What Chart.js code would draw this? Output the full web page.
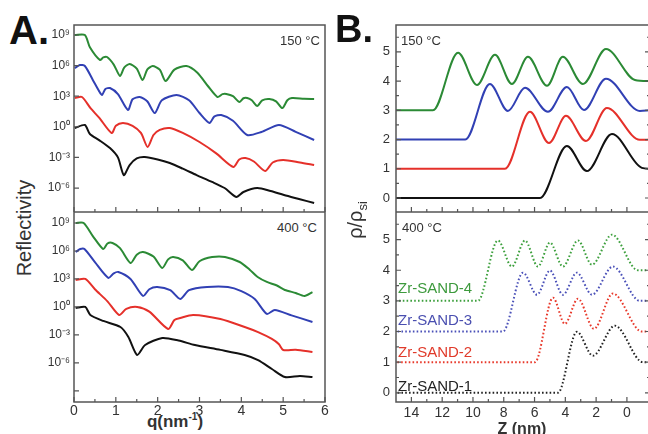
<!DOCTYPE html>
<html>
<head>
<meta charset="utf-8">
<script src="https://cdn.jsdelivr.net/npm/chart.js@4.4.1/dist/chart.umd.min.js"></script>
<style>
body { margin: 0; width: 648px; height: 434px; overflow: hidden; background: #fff; position: relative; font-family: "Liberation Sans", Arial, sans-serif; }
canvas { position: absolute; }
.t { position: absolute; white-space: nowrap; color: #333; transform: translateY(-50%); line-height: 1; }
</style>
</head>
<body>
<canvas id="tr" width="320" height="212" style="left:340px;top:0"></canvas>
<canvas id="br" width="320" height="222" style="left:340px;top:212px"></canvas>
<canvas id="tl" width="338" height="212" style="left:0;top:0;z-index:2"></canvas>
<canvas id="bl" width="338" height="222" style="left:0;top:212px;z-index:2"></canvas>

<div class="t" style="left:9px;top:30px;font:bold 40px 'Liberation Sans',Arial;color:#111">A.</div>
<div class="t" style="left:335px;top:29px;font:bold 38px 'Liberation Sans',Arial;color:#111">B.</div>
<div class="t" style="left:280px;top:40px;font-size:13px">150 °C</div>
<div class="t" style="left:277px;top:227px;font-size:13px">400 °C</div>
<div class="t" style="left:401px;top:40px;font-size:13px">150 °C</div>
<div class="t" style="left:402px;top:227px;font-size:13px">400 °C</div>
<div class="t" style="left:24px;top:228px;font-size:20px;transform:translate(-50%,-50%) rotate(-90deg)">Reflectivity</div>
<div class="t" style="left:357px;top:220px;font-size:20px;transform:translate(-50%,-50%) rotate(-90deg)">ρ/ρ<sub style="font-size:13px">si</sub></div>
<div class="t" style="left:175px;top:421px;font-weight:bold;font-size:17px;transform:translate(-50%,-50%)">q(nm<sup style="font-size:10px">-1</sup>)</div>
<div class="t" style="left:522px;top:429px;font-weight:bold;font-size:16px;transform:translate(-50%,-50%)">Z (nm)</div>
<div class="t" style="left:398px;top:287px;font-size:15px;color:#3d9a3d">Zr-SAND-4</div>
<div class="t" style="left:398px;top:319px;font-size:15px;color:#4a4fb0">Zr-SAND-3</div>
<div class="t" style="left:398px;top:351px;font-size:15px;color:#e03a2a">Zr-SAND-2</div>
<div class="t" style="left:398px;top:385px;font-size:15px;color:#222">Zr-SAND-1</div>

<script>
// reflectivity, 150 C  (q in nm^-1, log10 R)
const q150green = [0.02, 0.26, 0.38, 0.62, 0.70, 0.79, 0.95, 1.10, 1.20, 1.33, 1.50, 1.64, 1.75, 1.88, 2.05, 2.19, 2.40, 2.69, 2.95, 3.20, 3.43, 3.55, 3.64, 3.80, 3.95, 4.05, 4.14, 4.25, 4.38, 4.50, 4.67, 4.83, 4.98, 5.10, 5.21, 5.50, 5.74];
const r150green = [9.0, 9.0, 7.8, 6.55, 6.8, 6.84, 6.1, 4.98, 5.8, 6.16, 5.7, 4.59, 5.6, 5.96, 5.6, 4.49, 5.6, 5.96, 5.3, 4.0, 2.92, 3.2, 3.22, 3.0, 2.43, 2.8, 2.82, 2.6, 2.04, 2.6, 2.73, 2.5, 1.84, 2.6, 2.82, 2.75, 2.73];
const q150blue = [0.02, 0.14, 0.26, 0.45, 0.60, 0.67, 0.75, 0.86, 1.05, 1.29, 1.40, 1.57, 1.75, 1.93, 2.10, 2.45, 2.75, 3.00, 3.24, 3.35, 3.52, 3.80, 4.14, 4.48, 4.90, 5.30, 5.74];
const r150blue = [5.76, 6.06, 5.96, 4.6, 3.5, 3.12, 3.7, 3.8, 3.2, 1.65, 2.7, 2.92, 2.5, 1.35, 2.6, 3.12, 2.6, 1.35, 0.37, 1.0, 1.16, 0.6, -0.8, -0.51, 0.18, -0.5, -1.29];
const q150red = [0.02, 0.19, 0.40, 0.60, 0.90, 1.00, 1.17, 1.40, 1.60, 1.76, 1.90, 2.05, 2.29, 2.60, 3.00, 3.40, 3.81, 3.95, 4.10, 4.30, 4.57, 4.75, 5.00, 5.40, 5.74];
const r150red = [2.82, 2.92, 1.8, 0.9, -0.61, 0.1, 0.37, 0.1, -0.6, -1.98, -0.8, -0.3, -0.12, -0.6, -1.49, -2.6, -3.94, -3.2, -3.06, -3.4, -4.33, -3.5, -3.25, -3.5, -3.75];
const q150black = [0.02, 0.26, 0.38, 0.60, 0.86, 1.05, 1.19, 1.33, 1.50, 1.69, 2.00, 2.29, 2.60, 2.93, 3.30, 3.60, 3.88, 4.05, 4.38, 4.70, 5.02, 5.40, 5.74];
const r150black = [-0.12, 0.18, -0.71, -1.3, -2.08, -3.0, -4.73, -3.75, -3.1, -2.96, -3.2, -3.55, -4.1, -4.73, -5.4, -6.0, -6.88, -6.39, -6.0, -6.3, -6.69, -7.1, -7.47];

// reflectivity, 400 C
const q400green = [0.04, 0.23, 0.45, 0.70, 0.80, 0.92, 1.10, 1.35, 1.50, 1.65, 1.90, 2.11, 2.25, 2.37, 2.60, 2.82, 3.00, 3.30, 3.61, 3.96, 4.20, 4.39, 4.61, 4.85, 5.04, 5.30, 5.51, 5.70];
const r400green = [9.0, 9.0, 7.6, 6.21, 6.8, 6.86, 6.3, 4.71, 5.6, 5.89, 5.4, 4.18, 5.1, 5.36, 5.0, 3.96, 4.9, 5.35, 5.36, 4.82, 4.0, 3.21, 2.68, 2.3, 1.82, 1.5, 1.18, 1.6];
const q400blue = [0.04, 0.15, 0.25, 0.50, 0.82, 0.95, 1.06, 1.35, 1.65, 1.80, 1.99, 2.30, 2.54, 2.75, 3.18, 3.68, 4.00, 4.32, 4.61, 4.80, 5.20, 5.70];
const r400blue = [5.89, 6.21, 6.21, 4.8, 3.11, 3.6, 3.75, 3.0, 1.18, 1.9, 2.14, 1.8, 0.85, 1.8, 2.14, 2.14, 1.7, 0.85, -0.75, -0.32, -0.9, -1.61];
const q400red = [0.04, 0.27, 0.50, 0.80, 1.08, 1.25, 1.51, 1.80, 2.25, 2.40, 2.54, 2.85, 3.50, 4.08, 4.40, 4.73, 4.90, 5.00, 5.30, 5.70];
const r400red = [2.89, 3.0, 1.9, 0.6, -0.86, -0.2, 0.0, -0.5, -2.36, -1.4, -1.18, -0.86, -1.3, -2.15, -2.7, -3.43, -4.0, -4.61, -4.6, -4.83];
const q400black = [0.04, 0.27, 0.39, 0.70, 1.11, 1.30, 1.51, 1.70, 2.11, 2.50, 2.89, 3.50, 4.08, 4.40, 4.73, 5.04, 5.40, 5.70];
const r400black = [-0.11, 0.0, -0.86, -1.5, -2.15, -3.22, -5.15, -4.08, -3.33, -3.6, -4.08, -4.6, -5.15, -5.7, -6.65, -7.51, -7.4, -7.51];

// density profiles, 150 C  (Z in nm, rho/rho_si with offsets)
const z150black = [-1.5, -0.97, 0.97, 2.6, 3.9, 5.65, 15];
const d150black = [1.0, 1.03, 2.19, 0.92, 1.78, 0.0, 0.0];
const z150red = [-1.5, -0.84, 1.3, 2.66, 3.96, 5.06, 6.3, 7.92, 15];
const d150red = [2.0, 1.99, 3.08, 1.95, 2.81, 1.88, 2.95, 1.0, 1.0];
const z150blue = [-1.5, -0.84, 1.36, 2.79, 3.9, 5.13, 6.62, 7.73, 8.9, 10.5, 15];
const d150blue = [3.0, 2.98, 4.08, 3.01, 3.8, 2.95, 3.77, 2.98, 3.9, 2.0, 2.0];
const z150green = [-1.5, -0.52, 1.36, 2.86, 4.16, 5.19, 6.43, 7.47, 8.57, 9.74, 10.97, 12.6, 15];
const d150green = [4.0, 4.04, 5.1, 3.9, 4.83, 3.84, 4.83, 3.9, 4.9, 3.87, 4.97, 3.0, 3.0];

// density profiles, 400 C
const z400black = [-1.5, -1.04, 0.78, 2.21, 3.25, 4.48, 15];
const d400black = [1.0, 1.0, 2.19, 1.21, 1.99, 0.0, 0.0];
const z400red = [-1.5, -0.97, 0.91, 2.14, 3.18, 4.03, 4.8, 5.97, 15];
const d400red = [2.0, 2.0, 3.24, 2.09, 3.07, 2.25, 3.1, 1.0, 1.0];
const z400blue = [-1.5, -0.84, 0.91, 2.27, 3.25, 4.16, 5.0, 5.84, 6.75, 8.05, 15];
const d400blue = [3.0, 3.0, 4.12, 3.2, 3.92, 3.2, 3.99, 3.2, 3.92, 2.0, 2.0];
const z400green = [-1.5, -0.71, 0.97, 2.27, 3.18, 4.16, 5.0, 5.78, 6.62, 7.47, 8.38, 9.68, 15];
const d400green = [4.0, 4.0, 5.16, 4.18, 4.97, 4.12, 4.9, 4.12, 4.97, 4.12, 4.97, 3.0, 3.0];

// axis ticks
const logTicks150 = [-6, -3, 0, 3, 6, 9];
const logTicks400 = [-9, -6, -3, 0, 3, 6, 9];
const qTicks = [0, 1, 2, 3, 4, 5, 6];
const qMinor = [0.5, 1.5, 2.5, 3.5, 4.5, 5.5];
const zTicks = [0, 2, 4, 6, 8, 10, 12, 14];
const zMinor = [1, 3, 5, 7, 9, 11, 13];
const rhoTicks = [0, 1, 2, 3, 4, 5];
const rhoMinor = [0.5, 1.5, 2.5, 3.5, 4.5, 5.5];

const FONT = "'Liberation Sans', Arial, sans-serif";
const sup = { '-': '⁻', '0': '⁰', '1': '¹', '2': '²', '3': '³', '4': '⁴', '5': '⁵', '6': '⁶', '7': '⁷', '8': '⁸', '9': '⁹' };
const pow10 = v => '10' + String(v).split('').map(c => sup[c]).join('');

const pts = (xs, ys) => xs.map((x, i) => ({ x: x, y: ys[i] }));

// frame with inward ticks, and the x tick labels under bottom panels
const framePlugin = {
    id: 'frame',
    afterDatasetsDraw(chart, args, o) {
        const { ctx, chartArea: a, scales } = chart;
        ctx.save();
        ctx.strokeStyle = '#555';
        ctx.lineWidth = 1.2;
        ctx.beginPath();
        const xt = (vals, len) => vals.forEach(v => {
            const px = scales.x.getPixelForValue(v);
            ctx.moveTo(px, a.bottom); ctx.lineTo(px, a.bottom - len);
        });
        const yt = (vals, len) => vals.forEach(v => {
            const py = scales.y.getPixelForValue(v);
            ctx.moveTo(a.left, py); ctx.lineTo(a.left + len, py);
            if (o.mirror) { ctx.moveTo(a.right, py); ctx.lineTo(a.right - len, py); }
        });
        xt(o.xMajor || [], 5); xt(o.xMinor || [], 3);
        yt(o.yMajor || [], 5); yt(o.yMinor || [], 3);
        ctx.stroke();
        ctx.lineWidth = 1.5;
        ctx.strokeRect(a.left, a.top, a.right - a.left, a.bottom - a.top);
        if (o.xText) {
            ctx.fillStyle = '#333';
            ctx.font = '14px ' + FONT;
            ctx.textAlign = 'center';
            ctx.textBaseline = 'top';
            o.xText.forEach(v => ctx.fillText(String(v), scales.x.getPixelForValue(v), a.bottom + o.xPad));
        }
        ctx.restore();
    }
};

function makeChart(id, datasets, cfg) {
    return new Chart(document.getElementById(id), {
        type: 'line',
        data: { datasets: datasets },
        options: {
            responsive: false,
            animation: false,
            devicePixelRatio: 1,
            layout: { padding: cfg.padding },
            elements: { point: { radius: 0 } },
            plugins: { legend: { display: false }, tooltip: { enabled: false }, frame: cfg.frame },
            scales: {
                x: {
                    type: 'linear',
                    min: cfg.xMin, max: cfg.xMax, reverse: !!cfg.xReverse,
                    display: false
                },
                y: {
                    type: 'linear',
                    min: cfg.yMin, max: cfg.yMax,
                    grid: { display: false, drawTicks: false },
                    border: { display: false },
                    afterBuildTicks: s => { s.ticks = cfg.yLabels.map(v => ({ value: v })); },
                    afterFit: s => {
                        s.width = cfg.yWidth;
                        s.paddingTop = 0; s.paddingBottom = 0;
                    },
                    ticks: {
                        padding: cfg.yPad, color: '#333', autoSkip: false,
                        font: { family: FONT, size: cfg.yFont },
                        callback: cfg.yFormat
                    }
                }
            }
        },
        plugins: [framePlugin]
    });
}

const GREEN = '#2b8a35', BLUE = '#3140b4', RED = '#e5302a', BLACK = '#111';
const solid = (xs, ys, c, t) => ({ data: pts(xs, ys), borderColor: c, borderWidth: 2, tension: t, fill: false });
const mono = (xs, ys, c) => ({ data: pts(xs, ys), borderColor: c, borderWidth: 2, cubicInterpolationMode: 'monotone', fill: false });
const dotted = (xs, ys, c) => ({ data: pts(xs, ys), borderColor: c, borderWidth: 2, borderDash: [1.6, 2.2], cubicInterpolationMode: 'monotone', fill: false });

makeChart('tl', [
    solid(q150green, r150green, GREEN, 0.25),
    solid(q150blue, r150blue, BLUE, 0.25),
    solid(q150red, r150red, RED, 0.25),
    solid(q150black, r150black, BLACK, 0.25)
], {
    padding: { top: 25, right: 13, left: 0, bottom: 0 },
    xMin: 0, xMax: 6, yMin: -8.35, yMax: 9.98,
    yLabels: logTicks150, yWidth: 74, yPad: 4, yFont: 12, yFormat: v => pow10(v),
    frame: { xMajor: qTicks, xMinor: qMinor, yMajor: logTicks150 }
});

makeChart('bl', [
    solid(q400green, r400green, GREEN, 0.25),
    solid(q400blue, r400blue, BLUE, 0.25),
    solid(q400red, r400red, RED, 0.25),
    solid(q400black, r400black, BLACK, 0.25)
], {
    padding: { top: 0, right: 13, left: 0, bottom: 32 },
    xMin: 0, xMax: 6, yMin: -10.19, yMax: 10.18,
    yLabels: logTicks400, yWidth: 74, yPad: 4, yFont: 12, yFormat: v => (v === -9 ? '' : pow10(v)),
    frame: { xMajor: qTicks, xMinor: qMinor, yMajor: logTicks400, xText: qTicks, xPad: 2 }
});

makeChart('tr', [
    mono(z150green, d150green, GREEN),
    mono(z150blue, d150blue, BLUE),
    mono(z150red, d150red, RED),
    mono(z150black, d150black, BLACK)
], {
    padding: { top: 25, right: 10, left: 0, bottom: 0 },
    xMin: -1.5, xMax: 15, xReverse: true, yMin: -0.48, yMax: 5.92,
    yLabels: rhoTicks, yWidth: 56, yPad: 6, yFont: 13, yFormat: v => String(v),
    frame: { xMajor: zTicks, xMinor: zMinor, yMajor: rhoTicks, yMinor: rhoMinor, mirror: true }
});

makeChart('br', [
    dotted(z400green, d400green, '#3da03d'),
    dotted(z400blue, d400blue, '#4a50b8'),
    dotted(z400red, d400red, '#e8382a'),
    dotted(z400black, d400black, '#222')
], {
    padding: { top: 0, right: 10, left: 0, bottom: 32 },
    xMin: -1.5, xMax: 15, xReverse: true, yMin: -0.30, yMax: 5.9,
    yLabels: rhoTicks, yWidth: 56, yPad: 6, yFont: 13, yFormat: v => String(v),
    frame: { xMajor: zTicks, xMinor: zMinor, yMajor: rhoTicks, yMinor: rhoMinor, mirror: true, xText: zTicks, xPad: 4 }
});
</script>
</body>
</html>
